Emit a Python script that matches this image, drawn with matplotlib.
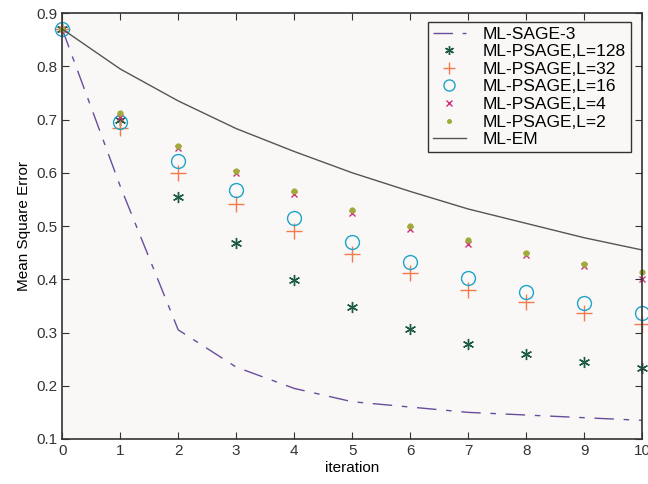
import matplotlib
matplotlib.use("Agg")
import matplotlib.pyplot as plt

plt.rcParams['font.family'] = ['Liberation Sans', 'DejaVu Sans']

iters = list(range(11))
sage3 = [0.87, 0.575, 0.305, 0.235, 0.195, 0.17, 0.16, 0.15, 0.145, 0.14, 0.135]
psage_128 = [0.87, 0.70, 0.555, 0.468, 0.398, 0.347, 0.307, 0.279, 0.26, 0.244, 0.234]
psage_32 = [0.87, 0.685, 0.60, 0.542, 0.49, 0.447, 0.412, 0.38, 0.357, 0.337, 0.316]
psage_16 = [0.87, 0.695, 0.622, 0.567, 0.515, 0.47, 0.433, 0.402, 0.376, 0.355, 0.337]
psage_4 = [0.87, 0.705, 0.647, 0.600, 0.56, 0.525, 0.495, 0.467, 0.445, 0.424, 0.40]
psage_2 = [0.87, 0.712, 0.651, 0.604, 0.565, 0.53, 0.50, 0.473, 0.45, 0.428, 0.413]
em = [0.87, 0.795, 0.735, 0.683, 0.64, 0.6, 0.565, 0.532, 0.505, 0.478, 0.455]

fig = plt.figure(figsize=(6.48, 4.84), dpi=100)
ax = fig.add_axes([0.096, 0.093, 0.895, 0.88])
ax.set_facecolor('#f9f8f7')

ax.plot(iters, sage3, color='#6a4c9c', lw=1.0, dashes=(14, 7, 4, 7), label='ML-SAGE-3', clip_on=False)
ax.plot(iters, psage_128, ls='none', marker=(6, 2, 0), ms=8, mew=1.0, color='#1d5c40', label='ML-PSAGE,L=128', clip_on=False)
ax.plot(iters, psage_32, ls='none', marker='+', ms=11, mew=1.0, color='#f47a4a', label='ML-PSAGE,L=32', clip_on=False)
ax.plot(iters, psage_16, ls='none', marker='o', ms=10, mew=1.0, mfc='none', color='#1ea4c8', label='ML-PSAGE,L=16', clip_on=False)
ax.plot(iters, psage_4, ls='none', marker='x', ms=5, mew=1.0, color='#d0307a', label='ML-PSAGE,L=4', clip_on=False)
ax.plot(iters, psage_2, ls='none', marker='o', ms=4.5, mew=0, color='#a2aa38', label='ML-PSAGE,L=2', clip_on=False)
ax.plot(iters, em, color='#555555', lw=1.0, label='ML-EM', clip_on=False)

ax.set_xlim(0, 10)
ax.set_ylim(0.1, 0.9)
ax.set_xticks(range(11))
ax.set_yticks([0.1, 0.2, 0.3, 0.4, 0.5, 0.6, 0.7, 0.8, 0.9])
ax.set_yticklabels(['0.1', '0.2', '0.3', '0.4', '0.5', '0.6', '0.7', '0.8', '0.9'])
ax.tick_params(direction='in', top=True, right=True, labelsize=11, colors='#333333', length=5)
for s in ax.spines.values():
    s.set_color('#333333')
    s.set_linewidth(1.2)

ax.set_xlabel('iteration', fontsize=11, labelpad=2)
ax.set_ylabel('Mean Square Error', fontsize=11)

leg = ax.legend(loc='upper right', bbox_to_anchor=(0.995, 0.999), fontsize=12.5,
                frameon=True, fancybox=False, edgecolor='#333333',
                handlelength=1.9, handletextpad=1.0, borderpad=0.25,
                labelspacing=0.14, markerscale=0.8)
leg.get_frame().set_linewidth(1.0)
leg.get_frame().set_facecolor('#f9f8f7')
leg.get_frame().set_alpha(1)

fig.savefig('out.png', dpi=100)
